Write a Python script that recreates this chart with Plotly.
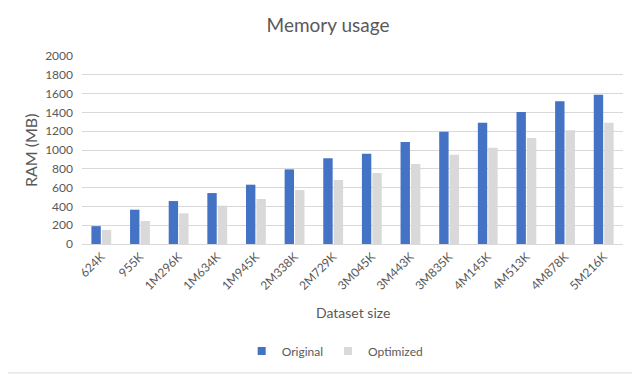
import plotly.graph_objects as go

# Data
dataset_sizes = ["624K", "955K", "1M296K", "1M634K", "1M945K", "2M338K", "2M729K",
                 "3M045K", "3M443K", "3M835K", "4M145K", "4M513K", "4M878K", "5M216K"]
original_mb = [190, 365, 457, 542, 631, 794, 911, 961, 1085, 1195, 1291, 1404, 1518, 1589]
optimized_mb = [150, 245, 326, 408, 479, 574, 681, 755, 851, 950, 1025, 1128, 1209, 1291]
y_ticks = [0, 200, 400, 600, 800, 1000, 1200, 1400, 1600, 1800, 2000]

TEXT = "#595959"
GRID = "#D9D9D9"
FONT = "Lato, Open Sans, sans-serif"
series = [("Original", original_mb, "#4472C4"), ("Optimized", optimized_mb, "#D9D9D9")]

fig = go.Figure()
for name, values, color in series:
    fig.add_trace(go.Bar(x=dataset_sizes, y=values, name=name, legendgroup=name, showlegend=False,
                         marker=dict(color=color, line=dict(width=0))))
# small square legend keys, like the Excel legend
for name, values, color in series:
    fig.add_trace(go.Scatter(x=[None], y=[None], mode="markers", name=name, legendgroup=name,
                             marker=dict(symbol="square", size=8, color=color)))

# the page body has an 8px margin, so margins are shifted to line up with the reference
fig.update_layout(
    width=640,
    height=375,
    paper_bgcolor="white",
    plot_bgcolor="white",
    font=dict(family=FONT, color=TEXT, size=12),
    title=dict(text="Memory usage", x=0.5, xanchor="center", y=1 - 17 / 375, yanchor="middle",
               font=dict(size=19, color=TEXT)),
    margin=dict(l=74, r=25, t=48, b=139, autoexpand=False),
    barmode="group",
    bargap=0.46,
    bargroupgap=0.1,
    showlegend=True,
    legend=dict(orientation="h", x=0.468, xanchor="center", y=-0.569, yanchor="middle",
                font=dict(size=12, color=TEXT), itemwidth=30, traceorder="normal"),
    xaxis=dict(
        tickangle=-45,
        tickfont=dict(size=12, color=TEXT),
        showline=True,
        linecolor=GRID,
        showgrid=False,
        ticks="",
        automargin=False,
    ),
    yaxis=dict(
        range=[0, 2000],
        tickvals=y_ticks,
        tickfont=dict(size=12, color=TEXT),
        gridcolor=GRID,
        showline=False,
        zeroline=False,
        ticks="",
        ticklabelstandoff=8,
        automargin=False,
    ),
    annotations=[
        dict(text="Dataset size", xref="paper", yref="paper", x=0.5, y=-0.362, xanchor="center", yanchor="middle",
             showarrow=False, font=dict(size=14, color=TEXT)),
        dict(text="RAM (MB)", xref="paper", yref="paper", x=-0.096, y=0.5, xanchor="center", yanchor="middle",
             textangle=-90, showarrow=False, font=dict(size=16, color=TEXT)),
    ],
    shapes=[
        dict(type="rect", xref="paper", yref="paper", x0=-0.15, x1=1.02, y0=-0.686, y1=1.293,
             line=dict(color=GRID, width=1), layer="below"),
    ],
)

fig.write_html("out.html")
